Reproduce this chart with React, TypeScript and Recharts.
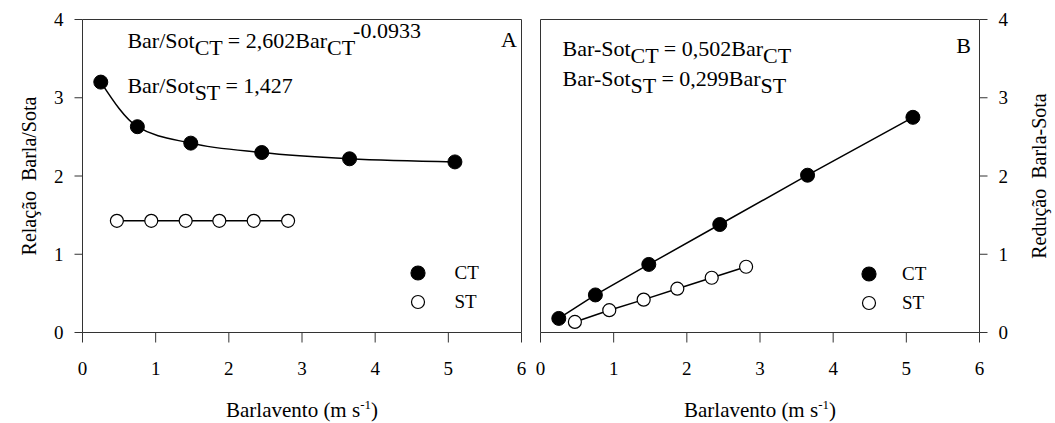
import { ComposedChart, Legend, Line, XAxis, YAxis } from "recharts"

// windward speed, m s-1 (with / without barrier treatment)
const barCT = [0.25, 0.75, 1.48, 2.45, 3.65, 5.09]
const barST = [0.47, 0.94, 1.41, 1.87, 2.34, 2.81]

// panel A: windward/leeward ratio
const ratioCT = [3.2, 2.63, 2.42, 2.3, 2.22, 2.18]
const ratioST = [1.427, 1.427, 1.427, 1.427, 1.427, 1.427]

// panel B: windward - leeward reduction
const reducCT = [0.18, 0.48, 0.87, 1.38, 2.01, 2.75]
const reducST = [0.135, 0.285, 0.42, 0.56, 0.7, 0.84]

const xTicks = [0, 1, 2, 3, 4, 5, 6]
const yTicks = [0, 1, 2, 3, 4]

const pair = (xs: number[], ys: number[]) => xs.map((x, i) => ({ x, y: ys[i] }))

const FONT = "Liberation Serif, DejaVu Serif, Times New Roman, serif"
const INK = "#000"
const AXIS = "#333"

const filledDot = { r: 7, fill: INK, stroke: INK, strokeWidth: 1 }
const openDot = { r: 6.5, fill: "#fff", stroke: INK, strokeWidth: 1.2 }
const tickStyle = { fontFamily: FONT, fontSize: 19, fill: INK }

function MarkerLegend({ payload, gap }: { payload?: any[]; gap: number }) {
  return (
    <div style={{ fontFamily: FONT, fontSize: 19, color: INK }}>
      {(payload ?? []).map((entry) => (
        <div key={entry.value} style={{ display: "flex", alignItems: "center", height: 29.4 }}>
          <svg width={16} height={16}>
            <circle
              cx={8}
              cy={8}
              r={entry.value === "CT" ? 7 : 6.5}
              fill={entry.value === "CT" ? INK : "#fff"}
              stroke={INK}
              strokeWidth={1.2}
            />
          </svg>
          <span style={{ marginLeft: gap }}>{entry.value}</span>
        </div>
      ))}
    </div>
  )
}

function xTitle(props: any) {
  const vb = props.viewBox
  return (
    <text x={vb.x + vb.width / 2} y={vb.y + 84.5} textAnchor="middle" fontFamily={FONT} fontSize={21} fill={INK}>
      Barlavento (m s
      <tspan fontSize={13} dy={-8}>-1</tspan>
      <tspan dy={8}>)</tspan>
    </text>
  )
}

function yTitle(text: string, dx: number) {
  return (props: any) => {
    const vb = props.viewBox
    const x = vb.x + dx
    const y = vb.y + vb.height / 2
    return (
      <text
        x={x}
        y={y}
        transform={`rotate(-90 ${x} ${y})`}
        textAnchor="middle"
        fontFamily={FONT}
        fontSize={20}
        fill={INK}
        style={{ whiteSpace: "pre" }}
      >
        {text}
      </text>
    )
  }
}

function RatioPanel() {
  return (
    <ComposedChart width={530} height={423} margin={{ top: 18.5, right: 7.5, bottom: 50.5, left: 22.5 }}>
      <XAxis
        xAxisId="b"
        type="number"
        dataKey="x"
        domain={[0, 6]}
        ticks={xTicks}
        height={40}
        tickSize={10}
        tickMargin={19}
        tick={tickStyle}
        stroke={AXIS}
        label={xTitle}
      />
      <XAxis xAxisId="t" orientation="top" type="number" dataKey="x" domain={[0, 6]} height={1} tick={false} tickLine={false} stroke={AXIS} />
      <YAxis
        yAxisId="l"
        type="number"
        domain={[0, 4]}
        ticks={yTicks}
        width={60}
        tickSize={8}
        tickMargin={11}
        tick={tickStyle}
        stroke={AXIS}
        label={yTitle("Relação  Barla/Sota", 13.5)}
      />
      <YAxis yAxisId="r" orientation="right" type="number" domain={[0, 4]} width={1} tick={false} tickLine={false} stroke={AXIS} />
      <Line
        xAxisId="b"
        yAxisId="l"
        name="CT"
        data={pair(barCT, ratioCT)}
        dataKey="y"
        type="monotone"
        stroke={INK}
        strokeWidth={1.5}
        dot={filledDot}
        activeDot={false}
        isAnimationActive={false}
      />
      <Line
        xAxisId="b"
        yAxisId="l"
        name="ST"
        data={pair(barST, ratioST)}
        dataKey="y"
        type="linear"
        stroke={INK}
        strokeWidth={1.5}
        dot={openDot}
        activeDot={false}
        isAnimationActive={false}
      />
      <Legend
        layout="vertical"
        align="center"
        verticalAlign="middle"
        wrapperStyle={{ left: 410, top: 258, width: 100 }}
        content={(p: any) => <MarkerLegend payload={p.payload} gap={28.5} />}
      />
    </ComposedChart>
  )
}

function ReductionPanel() {
  return (
    <ComposedChart width={525} height={423} margin={{ top: 18.5, right: 15.5, bottom: 50.5, left: 9.5 }}>
      <XAxis
        xAxisId="b"
        type="number"
        dataKey="x"
        domain={[0, 6]}
        ticks={xTicks}
        height={40}
        tickSize={10}
        tickMargin={19}
        tick={tickStyle}
        stroke={AXIS}
        label={xTitle}
      />
      <XAxis xAxisId="t" orientation="top" type="number" dataKey="x" domain={[0, 6]} height={1} tick={false} tickLine={false} stroke={AXIS} />
      <YAxis yAxisId="l" type="number" domain={[0, 4]} width={1} tick={false} tickLine={false} stroke={AXIS} />
      <YAxis
        yAxisId="r"
        orientation="right"
        type="number"
        domain={[0, 4]}
        ticks={yTicks}
        width={60}
        tickSize={8}
        tickMargin={11}
        tick={tickStyle}
        stroke={AXIS}
        label={yTitle("Redução  Barla-Sota", 66.5)}
      />
      <Line
        xAxisId="b"
        yAxisId="r"
        name="CT"
        data={pair(barCT, reducCT)}
        dataKey="y"
        type="linear"
        stroke={INK}
        strokeWidth={1.5}
        dot={filledDot}
        activeDot={false}
        isAnimationActive={false}
      />
      <Line
        xAxisId="b"
        yAxisId="r"
        name="ST"
        data={pair(barST, reducST)}
        dataKey="y"
        type="linear"
        stroke={INK}
        strokeWidth={1.5}
        dot={openDot}
        activeDot={false}
        isAnimationActive={false}
      />
      <Legend
        layout="vertical"
        align="center"
        verticalAlign="middle"
        wrapperStyle={{ left: 330.7, top: 259, width: 100 }}
        content={(p: any) => <MarkerLegend payload={p.payload} gap={25.3} />}
      />
    </ComposedChart>
  )
}

// fitted equations and panel letters
function Annotations() {
  const t = { fontFamily: FONT, fontSize: 22, fill: INK }
  return (
    <svg width={1055} height={423} style={{ position: "absolute", left: 0, top: 0, pointerEvents: "none" }}>
      <text x={127.4} y={48} {...t}>
        Bar/Sot<tspan dy={7}>CT</tspan>
        <tspan dy={-7}> = 2,602Bar</tspan>
        <tspan dy={7}>CT</tspan>
        <tspan dy={-17}>-0.0933</tspan>
      </text>
      <text x={127.4} y={93} {...t}>
        Bar/Sot<tspan dy={7}>ST</tspan>
        <tspan dy={-7}> = 1,427</tspan>
      </text>
      <text x={509} y={47} textAnchor="middle" {...t}>A</text>

      <text x={562.6} y={56} {...t}>
        Bar-Sot<tspan dy={7}>CT</tspan>
        <tspan dy={-7}> = 0,502Bar</tspan>
        <tspan dy={7}>CT</tspan>
      </text>
      <text x={562.6} y={86} {...t}>
        Bar-Sot<tspan dy={7}>ST</tspan>
        <tspan dy={-7}> = 0,299Bar</tspan>
        <tspan dy={7}>ST</tspan>
      </text>
      <text x={963.5} y={53} textAnchor="middle" {...t}>B</text>
    </svg>
  )
}

export default function App() {
  return (
    <div style={{ position: "absolute", left: 0, top: 0, width: 1055, height: 423, background: "#fff" }}>
      <div style={{ position: "absolute", left: 0, top: 0 }}>
        <RatioPanel />
      </div>
      <div style={{ position: "absolute", left: 530, top: 0 }}>
        <ReductionPanel />
      </div>
      <Annotations />
    </div>
  )
}
